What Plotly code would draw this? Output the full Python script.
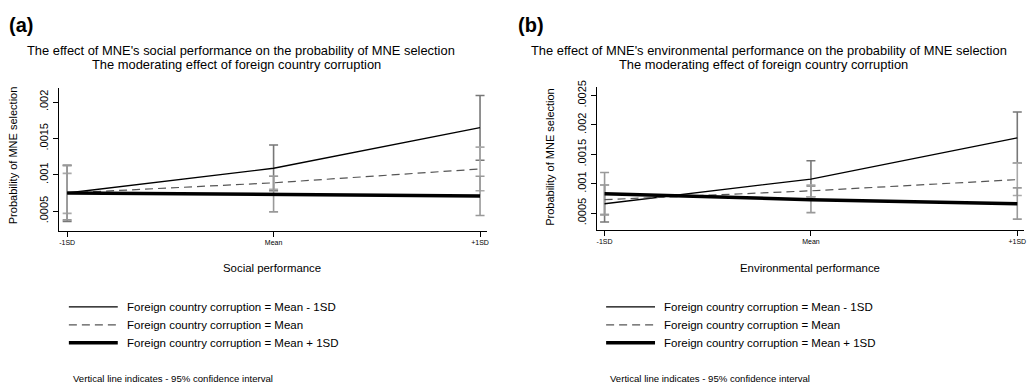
import plotly.graph_objects as go

W, H = 1027, 383
FONT = "Liberation Sans, Arial, sans-serif"

x_labels = ["-1SD", "Mean", "+1SD"]

# Panel (a): social performance
a_low = [0.00075, 0.00109, 0.00165]
a_mid = [0.00075, 0.00089, 0.00108]
a_high = [0.00075, 0.00073, 0.00071]
a_low_lo = [0.00036, 0.00078, 0.00120]
a_low_hi = [0.00113, 0.00141, 0.00209]
a_mid_lo = [0.00047, 0.00080, 0.00078]
a_mid_hi = [0.00102, 0.00098, 0.00138]
a_high_lo = [0.00038, 0.00049, 0.00044]
a_high_hi = [0.00113, 0.00098, 0.00098]

# Panel (b): environmental performance
b_low = [0.00066, 0.00108, 0.00178]
b_mid = [0.00073, 0.00088, 0.00107]
b_high = [0.00083, 0.00073, 0.00066]
b_low_lo = [0.00035, 0.00078, 0.00135]
b_low_hi = [0.00098, 0.00139, 0.00222]
b_mid_lo = [0.00048, 0.00078, 0.00080]
b_mid_hi = [0.00098, 0.00098, 0.00135]
b_high_lo = [0.00047, 0.00051, 0.00040]
b_high_hi = [0.00119, 0.00096, 0.00093]

a_yticks = [0.0005, 0.001, 0.0015, 0.002]
a_yticktext = [".0005", ".001", ".0015", ".002"]
b_yticks = [0.0005, 0.001, 0.0015, 0.002, 0.0025]
b_yticktext = [".0005", ".001", ".0015", ".002", ".0025"]

series_names = ["Foreign country corruption = Mean - 1SD",
                "Foreign country corruption = Mean",
                "Foreign country corruption = Mean + 1SD"]

line_styles = [dict(color="black", width=1.3),
               dict(color="#555555", width=1.2, dash="8px,5px"),
               dict(color="black", width=3.5)]
ci_colors = ["#777777", "#aaaaaa", "#999999"]


def px(x):
    return x / W


def py(y):
    return 1 - y / H


fig = go.Figure()


def add_panel(vals, los, his, xa, ya):
    for v, lo, hi, c in zip(vals, los, his, ci_colors):
        fig.add_trace(go.Scatter(
            x=x_labels, y=v, mode="markers", xaxis=xa, yaxis=ya,
            marker=dict(size=0.1, color="rgba(0,0,0,0)"),
            error_y=dict(type="data", symmetric=False,
                         array=[h - m for h, m in zip(hi, v)],
                         arrayminus=[m - l for l, m in zip(lo, v)],
                         color=c, thickness=1.6, width=4.5),
            showlegend=False, hoverinfo="skip"))
    for v, st, nm in zip(vals, line_styles, series_names):
        fig.add_trace(go.Scatter(x=x_labels, y=v, mode="lines", xaxis=xa, yaxis=ya,
                                 line=st, name=nm, showlegend=False))


add_panel([a_low, a_mid, a_high], [a_low_lo, a_mid_lo, a_high_lo],
          [a_low_hi, a_mid_hi, a_high_hi], "x", "y")
add_panel([b_low, b_mid, b_high], [b_low_lo, b_mid_lo, b_high_lo],
          [b_low_hi, b_mid_hi, b_high_hi], "x2", "y2")

axis_common = dict(showline=True, linecolor="black", linewidth=1, showgrid=False,
                   zeroline=False, ticks="outside", ticklen=5, tickcolor="black",
                   tickwidth=1)

xfont = dict(family=FONT, size=7, color="black")
yfont = dict(family=FONT, size=11, color="black")

fig.update_layout(
    width=W, height=H, margin=dict(l=0, r=0, t=0, b=0),
    paper_bgcolor="white", plot_bgcolor="white",
    font=dict(family=FONT, color="black"),
    xaxis=dict(domain=[px(59), px(488)], anchor="y", type="category",
               range=[-0.04, 2.034], tickfont=xfont, **axis_common),
    yaxis=dict(domain=[py(228), py(82)], anchor="x", range=[0.00023, 0.0022],
               tickvals=a_yticks, ticktext=a_yticktext, tickangle=-90,
               tickfont=yfont, **axis_common),
    xaxis2=dict(domain=[px(597.7), px(1026.3)], anchor="y2", type="category",
                range=[-0.039, 2.034], tickfont=xfont, **axis_common),
    yaxis2=dict(domain=[py(227), py(81.7)], anchor="x2", range=[0.000217, 0.00264],
                tickvals=b_yticks, ticktext=b_yticktext, tickangle=-90,
                tickfont=yfont, **axis_common),
)

ann = []


def text(x, y, s, size, bold=False, anchor="center", angle=0):
    ann.append(dict(xref="paper", yref="paper", x=px(x), y=py(y), text=("<b>%s</b>" % s) if bold else s,
                    showarrow=False, xanchor=anchor, yanchor="middle", textangle=angle,
                    font=dict(family=FONT, size=size, color="black")))


panels = [
    dict(off=0, label="(a)", t1="The effect of MNE's social performance on the probability of MNE selection",
         c1=241, c2=237, xt="Social performance", xc=273, yc=151, ytx=13),
    dict(off=510, label="(b)", t1="The effect of MNE's environmental performance on the probability of MNE selection",
         c1=771, c2=765, xt="Environmental performance", xc=812, yc=153, ytx=551.7),
]
for p in panels:
    text(p["off"] + 7, 18, p["label"], 20, bold=True, anchor="left")
    text(p["c1"], 44.5, p["t1"], 12.9)
    text(p["c2"], 59, "The moderating effect of foreign country corruption", 12.9)
    text(p["xc"], 266, p["xt"], 11.4)
    text(p["ytx"], p["yc"], "Probability of MNE selection", 11, angle=-90)
    lx0 = 69 + (p["off"] and 538.3)
    for i, (nm, st) in enumerate(zip(series_names, line_styles)):
        yy = 305.5 + i * 18.2
        text(lx0 + 56, yy, nm, 11.5, anchor="left")
        fig.add_shape(type="line", xref="paper", yref="paper", x0=px(lx0), x1=px(lx0 + 49),
                      y0=py(yy), y1=py(yy), line=st)
    text(lx0 + 2, 378.5, "Vertical line indicates - 95% confidence interval", 9.6, anchor="left")

fig.update_layout(annotations=ann)
fig.write_html("out.html")
